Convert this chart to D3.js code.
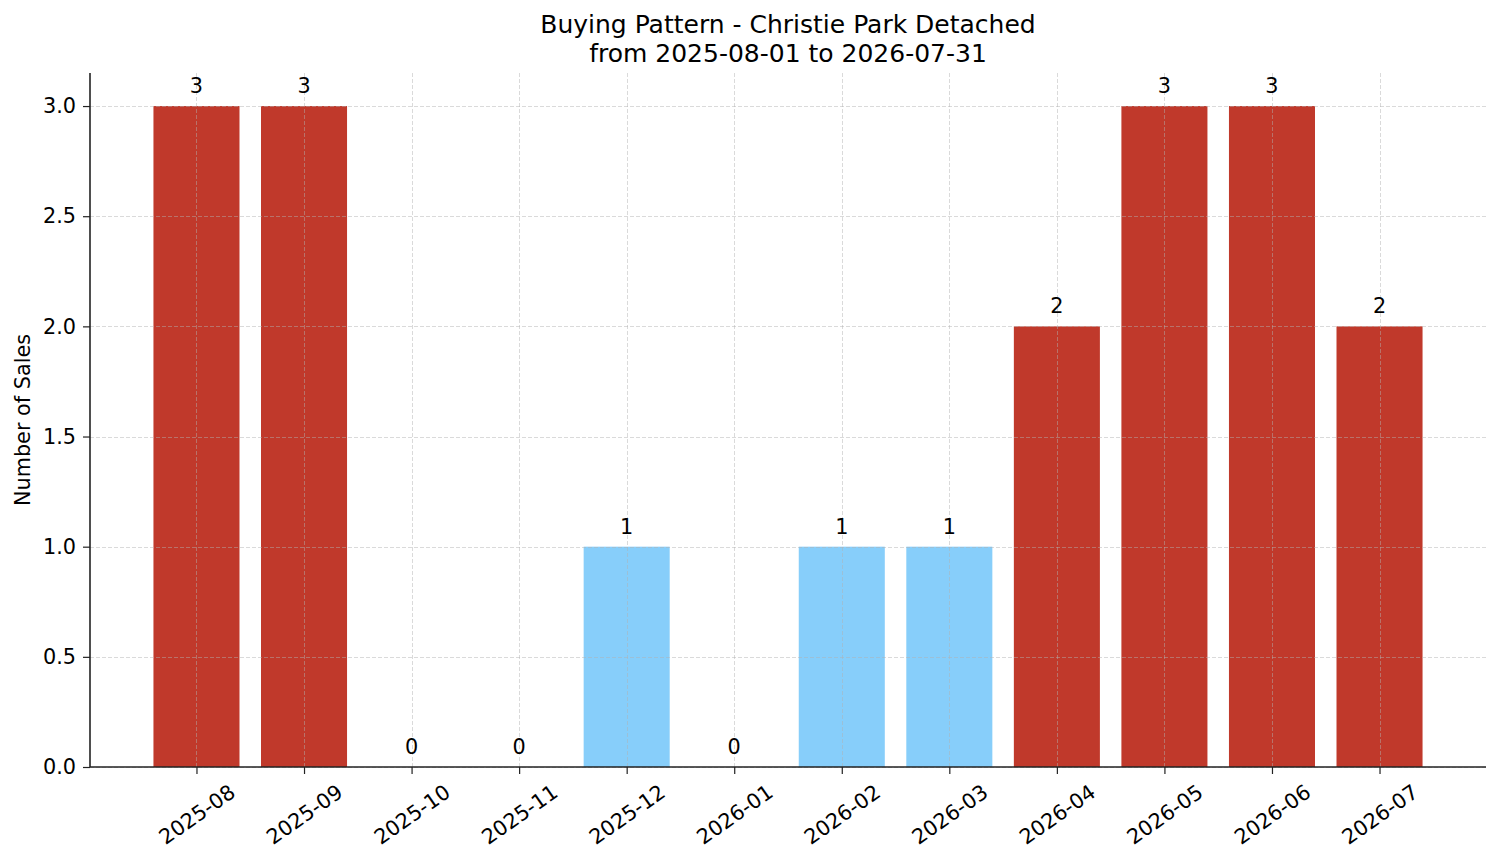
<!DOCTYPE html>
<html>
<head>
<meta charset="utf-8">
<script src="https://cdn.jsdelivr.net/npm/d3@7"></script>
<style>
  body { margin: 0; background: #fff; }
  text { font-family: "DejaVu Sans", sans-serif; fill: #000; }
</style>
</head>
<body>
<div id="chart"></div>
<script>
// data
const months = ["2025-08", "2025-09", "2025-10", "2025-11", "2025-12", "2026-01",
                "2026-02", "2026-03", "2026-04", "2026-05", "2026-06", "2026-07"];
const sales = [3, 3, 0, 0, 1, 0, 1, 1, 2, 3, 3, 2];
const yTicks = [0, 0.5, 1, 1.5, 2, 2.5, 3];
const titleLines = ["Buying Pattern - Christie Park Detached", "from 2025-08-01 to 2026-07-31"];

const width = 1501;
const height = 863;
const plotLeft = 90, plotRight = 1486, plotTop = 73, plotBottom = 767;
const fs = 20.8;

const svg = d3.select("#chart")
    .append("svg")
    .attr("width", width)
    .attr("height", height);

// matplotlib-like x range: bars at 0..n-1, width 0.8, 5% margins
const n = months.length;
const span = (n - 1) + 0.8;
const x = d3.scaleLinear()
    .domain([-0.4 - span * 0.05, n - 1 + 0.4 + span * 0.05])
    .range([plotLeft, plotRight]);

const y = d3.scaleLinear()
    .domain([0, 3.15])
    .range([plotBottom, plotTop]);

const barColor = d => d >= 2 ? "#C0392B" : "#87CEFA";

// bars
svg.selectAll(".bar")
    .data(sales)
    .enter()
    .append("rect")
    .attr("class", "bar")
    .attr("x", (d, i) => x(i - 0.4))
    .attr("width", x(0.8) - x(0))
    .attr("y", d => y(d))
    .attr("height", d => y(0) - y(d))
    .attr("fill", barColor);

// grid on top of bars
const grid = svg.append("g")
    .attr("stroke", "#b0b0b0")
    .attr("stroke-opacity", 0.6)
    .attr("stroke-width", 0.8)
    .attr("stroke-dasharray", "4,2");

grid.selectAll(".hgrid")
    .data(yTicks)
    .enter()
    .append("line")
    .attr("x1", plotLeft).attr("x2", plotRight)
    .attr("y1", d => Math.round(y(d)) + 0.5)
    .attr("y2", d => Math.round(y(d)) + 0.5);

grid.selectAll(".vgrid")
    .data(months)
    .enter()
    .append("line")
    .attr("x1", (d, i) => Math.round(x(i)) + 0.5)
    .attr("x2", (d, i) => Math.round(x(i)) + 0.5)
    .attr("y1", plotTop).attr("y2", plotBottom);

// y axis
const yAxis = svg.append("g")
    .attr("transform", `translate(${plotLeft},0)`)
    .call(d3.axisLeft(y).tickValues(yTicks).tickFormat(d3.format(".1f")).tickSizeOuter(0).tickSize(7).tickPadding(7));
yAxis.select(".domain").remove();
yAxis.selectAll("text").style("font-size", fs + "px").style("font-family", "DejaVu Sans");
yAxis.selectAll("line").attr("stroke", "#222").attr("stroke-width", 1.2);

// x axis
const xAxis = svg.append("g")
    .attr("transform", `translate(0,${plotBottom})`)
    .call(d3.axisBottom(x).tickValues(d3.range(n)).tickFormat(i => months[i]).tickSizeOuter(0).tickSize(7));
xAxis.select(".domain").remove();
xAxis.selectAll("line").attr("stroke", "#222").attr("stroke-width", 1.2);

// rotate labels 35deg, centered on tick like matplotlib ha=center
const angle = 35 * Math.PI / 180;
xAxis.selectAll("text")
    .style("font-size", fs + "px")
    .style("font-family", "DejaVu Sans")
    .attr("text-anchor", "middle")
    .attr("dy", "0.35em")
    .each(function() {
        const w = this.getComputedTextLength();
        const h = fs;
        const bh = w * Math.sin(angle) + h * Math.cos(angle);
        const cy = 7 + 7 + bh / 2;
        d3.select(this).attr("y", 0)
            .attr("transform", `translate(0,${cy}) rotate(-35)`);
    });

// spines
svg.append("line")
    .attr("x1", plotLeft).attr("x2", plotLeft)
    .attr("y1", plotTop).attr("y2", plotBottom)
    .attr("stroke", "#222").attr("stroke-width", 1.6);
svg.append("line")
    .attr("x1", plotLeft).attr("x2", plotRight)
    .attr("y1", plotBottom).attr("y2", plotBottom)
    .attr("stroke", "#222").attr("stroke-width", 1.6);

// value labels
svg.selectAll(".val")
    .data(sales)
    .enter()
    .append("text")
    .attr("class", "val")
    .attr("x", (d, i) => x(i))
    .attr("y", d => y(d) - 13)
    .attr("text-anchor", "middle")
    .style("font-size", fs + "px")
    .text(d => d);

// title
svg.selectAll(".title")
    .data(titleLines)
    .enter()
    .append("text")
    .attr("class", "title")
    .attr("x", (plotLeft + plotRight) / 2)
    .attr("y", (d, i) => 33 + i * 29)
    .attr("text-anchor", "middle")
    .style("font-size", "25px")
    .text(d => d);

// y label
svg.append("text")
    .attr("transform", `translate(30,${(plotTop + plotBottom) / 2}) rotate(-90)`)
    .attr("text-anchor", "middle")
    .style("font-size", fs + "px")
    .text("Number of Sales");
</script>
</body>
</html>
